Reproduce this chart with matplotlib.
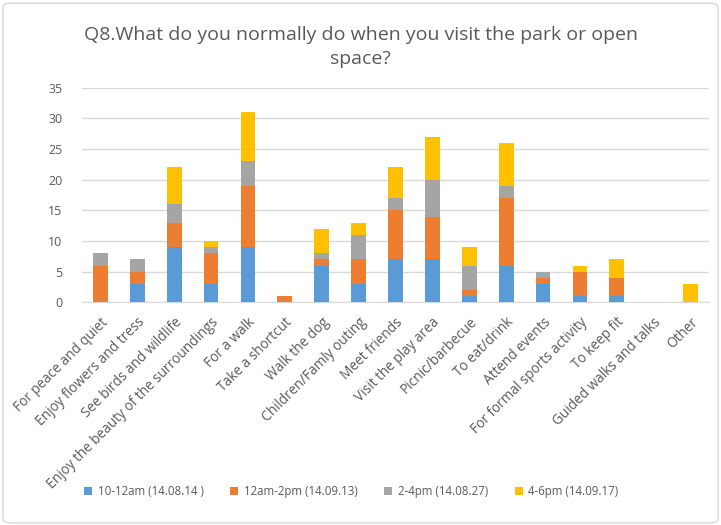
import matplotlib
matplotlib.use("Agg")
import matplotlib.pyplot as plt
from matplotlib.patches import FancyBboxPatch
import numpy as np

categories = ["For peace and quiet", "Enjoy flowers and tress", "See birds and wildlife",
              "Enjoy the beauty of the surroundings", "For a walk", "Take a shortcut",
              "Walk the dog", "Children/Famly outing", "Meet friends", "Visit the play area",
              "Picnic/barbecue", "To eat/drink", "Attend events", "For formal sports activity",
              "To keep fit", "Guided walks and talks", "Other"]
series_names = ["10-12am (14.08.14 )", "12am-2pm (14.09.13)", "2-4pm (14.08.27)", "4-6pm (14.09.17)"]
s_10_12 = [0, 3, 9, 3, 9, 0, 6, 3, 7, 7, 1, 6, 3, 1, 1, 0, 0]
s_12_2 = [6, 2, 4, 5, 10, 1, 1, 4, 8, 7, 1, 11, 1, 4, 3, 0, 0]
s_2_4 = [2, 2, 3, 1, 4, 0, 1, 4, 2, 6, 4, 2, 1, 0, 0, 0, 0]
s_4_6 = [0, 0, 6, 1, 8, 0, 4, 2, 5, 7, 3, 7, 0, 1, 3, 0, 3]
colors = ["#5B9BD5", "#ED7D31", "#A5A5A5", "#FFC000"]
yticks = [0, 5, 10, 15, 20, 25, 30, 35]

plt.rcParams['font.family'] = ['Open Sans', 'DejaVu Sans']
txt = "#595959"

fig = plt.figure(figsize=(7.21, 5.25), dpi=100)
fig.patches.append(FancyBboxPatch((0.004, 0.004), 0.992, 0.99, boxstyle="round,pad=0,rounding_size=0.01",
                                  transform=fig.transFigure, fill=False, edgecolor="#d9d9d9", lw=1))
ax = fig.add_axes([0.1137, 0.424, 0.8697, 0.409])

x = np.arange(len(categories))
bottom = np.zeros(len(categories))
handles = []
for vals, c, name in zip([s_10_12, s_12_2, s_2_4, s_4_6], colors, series_names):
    v = np.array(vals, dtype=float)
    h = ax.bar(x, v, 0.4, bottom=bottom, color=c, label=name, zorder=3)
    handles.append(h)
    bottom += v

ax.set_ylim(0, 35)
ax.set_xlim(-0.5, len(categories) - 0.5)
ax.set_yticks(yticks)
ax.yaxis.grid(True, color="#d9d9d9", lw=1, zorder=0)
for s in ["top", "right", "left"]:
    ax.spines[s].set_visible(False)
ax.spines["bottom"].set_color("#d9d9d9")
ax.tick_params(axis="both", length=0, colors=txt, labelsize=9)
ax.tick_params(axis="y", pad=14)
ax.set_xticks(x)
ax.set_xticklabels(categories, rotation=45, ha="right", rotation_mode="anchor", fontsize=9.8, color=txt)
ax.tick_params(axis="x", pad=9)

fig.text(0.5, 0.91, "Q8.What do you normally do when you visit the park or open\nspace?",
         ha="center", va="center", fontsize=14, color=txt, linespacing=1.45)

fig.legend(handles=handles, labels=series_names, loc="center", bbox_to_anchor=(0.487, 0.063),
           ncol=4, frameon=False, fontsize=8.3, handlelength=0.7, handleheight=0.7,
           columnspacing=2.3, handletextpad=0.5, labelcolor=txt)

fig.savefig("out.png", dpi=100)
